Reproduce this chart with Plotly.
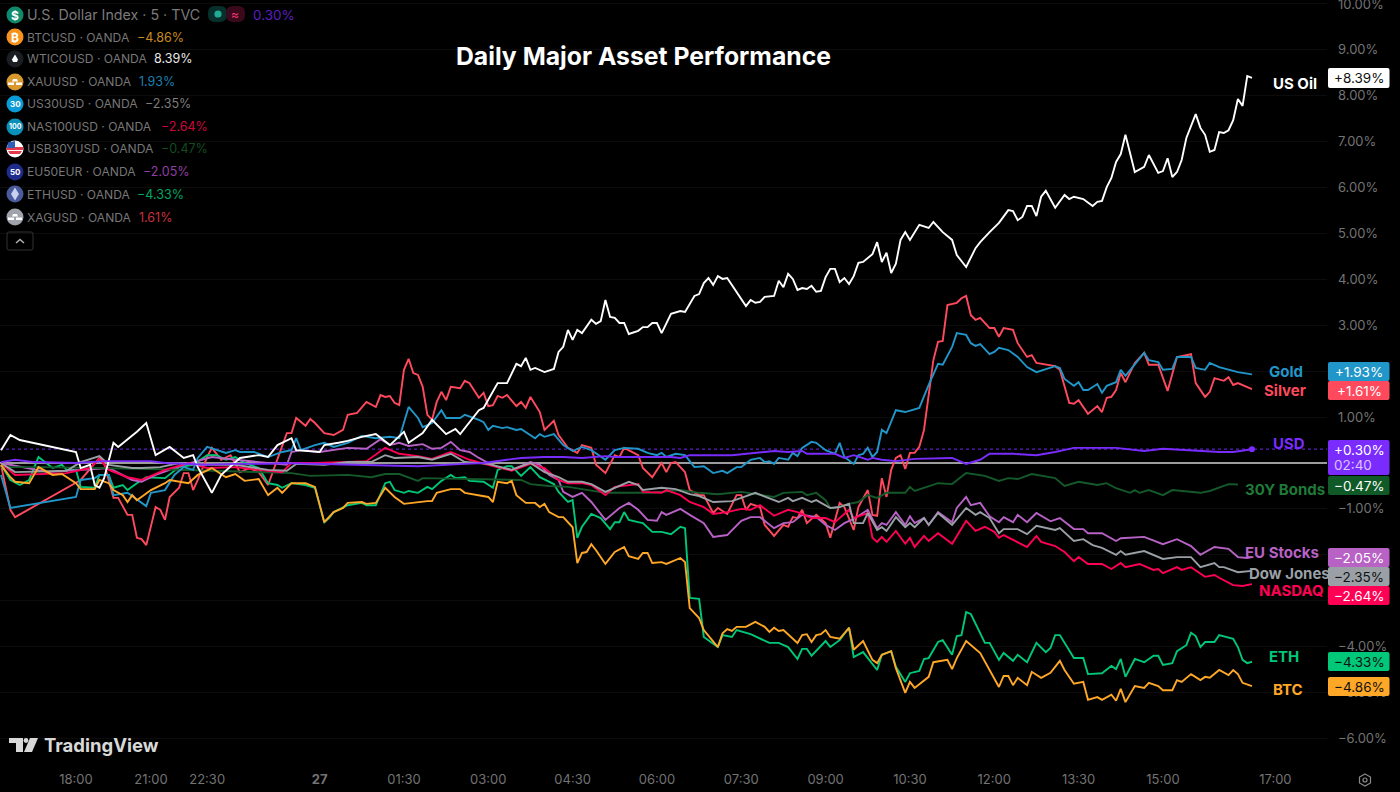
import plotly.graph_objects as go

# ---------- data: 5-minute bars counted from the 18:00 tick, values in percent ----------
tick_bars = [0, 16, 28, 52, 70, 88, 106, 124, 142, 160, 178, 196, 214, 232, 256]
tick_labels = ["18:00", "21:00", "22:30", "<b>27</b>", "01:30", "03:00", "04:30", "06:00", "07:30", "09:00",
               "10:30", "12:00", "13:30", "15:00", "17:00"]
pct_ticks = list(range(-6, 11))
# labels at 2, 0, -2 and -3 sit behind the value tags in the reference, so they stay empty
pct_labels = ["−6.00%", "−5.00%", "−4.00%", "", "", "−1.00%", "", "1.00%", "", "3.00%",
              "4.00%", "5.00%", "6.00%", "7.00%", "8.00%", "9.00%", "10.00%"]

oil_bars = [-16,-14,-12,0,1,3,4,5,6,8,9,13,15,17,20,23,25,26,29,31,35,39,41,43,46,47,52,53,56,58,61,64,67,70,71,74,76,79,81,82,86,87,90,92,94,95,96,97,98,100,102,103,104,105,106,107,108,110,111,112,113,114,115,116,117,118,120,121,122,123,124,125,127,129,130,132,133,134,135,136,137,138,139,142,143,144,145,146,147,149,150,151,152,153,154,155,156,157,158,159,160,161,162,163,164,165,166,167,168,170,171,172,173,174,175,176,177,178,180,182,183,185,187,188,190,192,193,195,197,199,200,201,202,203,204,205,206,207,209,211,212,213,215,217,218,219,220,221,222,223,224,226,228,229,231,232,233,234,235,236,237,239,240,241,242,243,244,245,246,247,248,249,250,251]
oil_values = [0.28,0.61,0.50,0.24,-0.11,-0.04,-0.48,-0.54,-0.33,0.44,0.35,0.68,0.87,0.17,0.35,0.11,0.17,-0.09,-0.65,-0.26,0.11,0.17,0.13,0.39,0.54,0.28,0.24,0.39,0.44,0.48,0.57,0.63,0.39,0.68,0.44,0.65,0.94,0.63,0.74,0.63,1.15,1.20,1.74,1.74,2.16,2.11,2.29,2.03,2.07,1.98,2.05,2.42,2.53,2.90,2.68,2.90,2.83,3.12,3.03,3.09,3.55,3.18,3.16,3.05,3.05,2.81,2.88,2.96,2.96,3.05,3.05,2.83,3.25,3.31,3.29,3.64,3.68,3.92,4.03,3.88,4.07,4.01,4.03,3.55,3.42,3.55,3.49,3.51,3.62,3.64,3.97,3.83,4.12,4.01,3.77,3.81,3.79,3.86,3.73,3.75,4.05,4.23,4.23,3.94,4.03,3.90,4.07,4.36,4.38,4.55,4.81,4.38,4.58,4.14,4.34,4.86,5.03,4.86,5.19,5.12,5.25,5.03,4.86,4.53,4.27,4.68,4.81,5.03,5.23,5.51,5.49,5.29,5.36,5.60,5.60,5.38,5.80,5.93,5.56,5.84,5.75,5.80,5.75,5.60,5.69,5.71,6.01,6.21,6.56,6.73,7.15,6.34,6.45,6.71,6.32,6.36,6.64,6.23,6.34,6.60,7.08,7.60,7.30,7.15,6.78,6.82,7.21,7.19,7.25,7.47,7.93,7.78,8.43,8.39]

silver_bars = [-16,-14,-13,1,5,6,8,9,11,12,13,14,15,17,18,19,20,22,23,24,25,26,28,29,31,33,35,37,39,41,45,46,47,49,50,51,53,55,57,58,60,62,64,65,66,67,68,69,70,71,72,73,74,75,76,77,78,79,80,82,83,84,86,87,88,89,90,91,92,93,94,95,96,97,99,100,102,103,105,107,108,110,111,113,115,116,117,120,121,123,125,126,127,128,130,131,133,134,136,137,139,141,142,143,144,146,147,149,151,152,153,154,155,156,158,160,161,163,164,166,167,169,170,171,172,173,174,175,176,177,178,179,180,181,183,184,185,186,188,189,190,191,192,193,195,196,197,198,200,201,203,204,205,209,210,212,213,214,216,218,219,220,221,222,223,224,226,228,229,231,233,235,238,239,241,242,243,245,246,247,248,251]
silver_values = [-0.04,-1.02,-1.18,-0.37,0.11,0.00,-0.76,-0.76,-1.13,-1.13,-1.63,-1.66,-1.79,-0.96,-1.02,-1.24,-0.74,-0.54,-0.22,-0.22,-0.59,-0.37,0.13,0.33,0.07,0.17,-0.20,-0.11,-0.20,-0.48,0.65,0.65,0.98,0.81,0.96,0.87,0.65,0.61,0.72,1.05,1.09,1.33,1.22,1.48,1.44,1.46,1.31,1.26,2.03,2.27,1.96,1.92,1.66,1.05,0.94,1.33,1.55,1.37,1.66,1.63,1.79,1.74,1.42,1.53,1.24,1.26,1.46,1.42,1.48,1.37,1.24,1.33,1.20,1.44,1.11,0.72,0.92,0.61,0.33,0.22,0.39,0.33,-0.04,-0.22,0.17,0.13,0.33,0.17,-0.11,-0.31,0.00,-0.20,0.00,0.02,-0.20,-0.59,-0.70,-0.70,-1.09,-0.98,-1.11,-0.70,-0.70,-1.02,-0.89,-0.96,-1.35,-1.59,-1.35,-1.39,-1.18,-1.20,-1.02,-1.31,-1.13,-1.31,-1.63,-0.87,-0.96,-1.46,-0.96,-0.59,-1.13,-1.15,-0.33,-0.74,-0.15,0.11,0.17,-0.13,0.22,0.22,0.35,0.72,2.24,2.64,2.66,3.44,3.49,3.59,3.64,3.22,3.12,3.16,2.94,2.94,2.75,2.94,2.90,2.61,2.31,2.35,2.18,2.11,2.03,1.31,1.29,1.37,1.07,1.24,1.11,1.42,1.44,1.59,1.96,1.76,2.18,2.40,2.14,2.14,1.57,2.31,2.37,1.74,1.44,1.55,1.85,1.79,1.87,1.70,1.74,1.61]

gold_bars = [-16,-14,0,1,4,5,7,8,11,15,16,19,21,23,25,26,28,30,32,34,35,38,41,44,46,47,48,51,53,55,58,61,64,67,69,71,73,74,76,78,79,82,83,86,87,88,89,91,92,94,95,98,99,100,102,104,106,108,110,113,115,117,120,122,124,125,126,128,130,132,134,136,138,139,141,142,144,146,147,148,149,150,152,153,154,155,157,158,160,162,163,164,166,167,168,169,170,171,172,173,175,177,180,182,184,185,187,188,190,191,192,193,195,196,197,199,201,203,205,209,210,211,213,214,215,216,218,219,220,222,223,224,226,228,229,231,232,234,235,238,239,241,242,244,248,251]
gold_values = [-0.26,-0.98,-0.74,-0.37,-0.33,-0.26,-0.26,-0.70,-0.65,-0.94,-0.65,-0.59,-0.26,-0.09,-0.15,0.11,0.35,0.28,0.22,0.28,0.24,0.24,0.13,0.24,0.28,0.54,0.28,0.39,0.44,0.35,0.44,0.59,0.54,0.57,0.54,1.22,0.98,0.78,0.87,1.15,0.98,0.98,1.05,0.94,0.89,0.72,0.81,0.76,0.78,0.72,0.74,0.54,0.63,0.57,0.63,0.39,0.26,0.35,0.28,0.07,0.28,0.33,0.31,0.22,0.17,0.22,0.13,0.20,0.17,-0.09,-0.07,-0.22,-0.17,-0.22,-0.09,-0.09,0.07,0.11,0.02,0.04,-0.02,0.11,0.07,0.22,0.15,0.33,0.46,0.44,0.28,0.20,0.44,0.13,-0.02,0.17,0.20,0.33,0.13,0.24,0.72,0.65,1.15,1.11,1.20,1.70,2.16,2.14,2.53,2.83,2.79,2.61,2.55,2.59,2.37,2.42,2.51,2.46,2.31,2.09,1.98,2.11,2.07,1.83,1.68,1.76,1.59,1.59,1.72,1.53,1.68,1.76,2.03,1.90,2.14,2.40,2.24,2.20,2.03,2.05,2.31,2.31,2.07,2.03,2.18,2.09,1.98,1.93]

usd_bars = [-16,-13,-9,0,6,16,19,28,34,41,44,58,73,83,87,92,95,100,104,108,113,115,119,123,127,129,131,140,149,152,155,156,162,164,166,169,170,172,175,179,186,187,190,193,195,200,205,209,213,222,228,232,244,247,251]
usd_values = [0.02,0.07,0.02,0.00,0.04,0.04,0.00,-0.04,-0.02,-0.02,0.00,-0.04,-0.07,-0.02,0.00,0.07,0.11,0.13,0.13,0.11,0.15,0.13,0.13,0.13,0.13,0.11,0.17,0.17,0.26,0.24,0.26,0.20,0.20,0.11,0.17,0.07,0.11,0.07,0.04,0.09,0.11,0.11,-0.02,0.07,0.20,0.20,0.17,0.24,0.33,0.33,0.26,0.31,0.24,0.24,0.30]

bonds_bars = [-16,-7,16,46,50,58,63,66,69,73,74,87,95,97,101,105,113,119,123,129,133,137,142,149,151,155,156,158,160,161,162,165,167,169,171,173,177,178,179,184,187,190,194,197,199,201,204,209,211,214,218,220,222,225,226,227,229,232,234,240,242,246,248]
bonds_values = [-0.09,-0.09,-0.13,-0.22,-0.28,-0.26,-0.31,-0.24,-0.24,-0.39,-0.33,-0.35,-0.37,-0.46,-0.50,-0.52,-0.65,-0.65,-0.65,-0.59,-0.65,-0.68,-0.63,-0.74,-0.65,-0.63,-0.70,-0.65,-0.81,-0.98,-0.98,-0.89,-0.85,-0.70,-0.76,-0.65,-0.65,-0.52,-0.61,-0.44,-0.46,-0.22,-0.28,-0.39,-0.33,-0.35,-0.24,-0.33,-0.50,-0.41,-0.48,-0.44,-0.55,-0.65,-0.59,-0.65,-0.59,-0.70,-0.59,-0.65,-0.61,-0.46,-0.47]

nasdaq_bars = [-16,-13,-2,3,5,7,11,14,19,24,28,34,41,44,46,51,58,62,66,69,73,76,80,84,88,90,93,97,100,103,105,108,110,113,115,120,121,125,126,129,131,134,136,139,142,144,146,149,152,154,157,160,162,165,166,169,170,171,172,173,175,177,178,179,181,182,184,187,190,192,194,196,197,198,201,203,205,206,209,211,213,214,216,219,221,223,224,227,230,231,232,235,236,238,241,243,244,245,247,249,251]
nasdaq_values = [0.00,-0.26,-0.22,-0.11,0.09,-0.15,-0.31,-0.37,-0.15,0.00,-0.11,-0.09,-0.17,-0.20,0.00,0.00,0.02,0.04,0.33,0.20,0.15,0.09,0.24,0.07,-0.04,-0.09,-0.17,-0.02,-0.11,-0.37,-0.44,-0.44,-0.48,-0.70,-0.52,-0.46,-0.63,-0.65,-0.59,-0.70,-0.85,-0.96,-1.11,-1.07,-1.00,-1.02,-0.92,-1.15,-1.02,-1.07,-1.20,-1.20,-1.29,-1.02,-1.20,-1.09,-1.63,-1.72,-1.61,-1.72,-1.48,-1.76,-1.63,-1.83,-1.59,-1.70,-1.53,-1.76,-1.26,-1.48,-1.39,-1.50,-1.63,-1.57,-1.72,-1.83,-1.59,-1.72,-1.81,-1.94,-2.14,-2.05,-2.20,-2.20,-2.31,-2.18,-2.27,-2.20,-2.33,-2.31,-2.40,-2.27,-2.33,-2.27,-2.48,-2.44,-2.50,-2.55,-2.66,-2.68,-2.64]

dow_bars = [-16,-13,-2,1,5,7,12,14,18,22,26,34,41,45,47,53,58,63,66,68,73,76,80,83,88,93,97,100,103,105,108,110,113,118,120,121,125,128,131,133,136,140,142,145,150,152,153,155,157,158,161,163,165,166,168,169,171,172,173,175,177,178,179,181,182,184,187,190,192,193,195,197,198,200,201,203,205,209,210,213,215,217,219,222,223,224,228,232,235,238,240,243,244,245,248,251]
dow_values = [0.00,-0.20,-0.17,0.02,0.15,-0.04,-0.11,-0.11,-0.09,0.00,-0.04,-0.04,-0.15,-0.17,-0.02,-0.04,0.02,0.02,0.17,0.11,0.13,0.07,0.20,0.02,-0.02,-0.15,0.00,-0.20,-0.31,-0.41,-0.41,-0.46,-0.63,-0.41,-0.48,-0.59,-0.54,-0.57,-0.68,-0.72,-0.85,-0.83,-0.76,-0.65,-0.85,-0.76,-0.83,-0.76,-0.85,-0.81,-0.98,-0.96,-0.89,-1.31,-1.31,-1.09,-1.46,-1.40,-1.48,-1.18,-1.40,-1.31,-1.40,-1.20,-1.35,-1.09,-1.35,-0.98,-1.13,-1.07,-1.20,-1.53,-1.44,-1.44,-1.44,-1.55,-1.37,-1.46,-1.42,-1.70,-1.66,-1.79,-1.85,-2.00,-1.92,-2.00,-1.92,-2.09,-2.05,-2.05,-2.27,-2.18,-2.27,-2.27,-2.38,-2.35]

eu_bars = [-16,-6,7,12,14,17,23,29,34,39,45,46,48,52,55,58,62,65,67,69,71,74,76,78,80,82,84,86,88,90,93,97,99,101,103,104,106,108,110,113,116,118,120,122,124,125,126,129,131,134,136,139,142,144,146,149,151,153,155,158,160,162,164,166,169,171,172,173,175,177,178,179,181,182,184,187,188,190,191,193,195,197,198,200,201,203,205,208,210,213,215,216,219,222,223,228,232,235,238,240,243,246,248,250,251]
eu_values = [0.00,-0.20,-0.11,-0.37,-0.41,-0.26,-0.04,0.13,0.07,0.02,-0.04,0.24,0.28,0.24,0.28,0.33,0.31,0.52,0.39,0.44,0.37,0.41,0.31,0.33,0.46,0.28,0.24,0.11,0.00,-0.09,-0.15,0.02,-0.04,-0.26,-0.37,-0.63,-0.74,-0.65,-0.85,-1.24,-0.98,-0.87,-1.02,-1.24,-1.26,-1.07,-1.13,-1.00,-1.13,-1.31,-1.61,-1.57,-1.26,-1.18,-1.18,-1.42,-1.31,-1.29,-1.13,-1.18,-1.35,-1.46,-1.31,-1.22,-1.02,-1.42,-1.31,-1.35,-1.07,-1.35,-1.16,-1.31,-1.20,-1.35,-1.07,-1.29,-0.98,-0.74,-0.92,-0.87,-1.16,-1.29,-1.18,-1.29,-1.13,-1.29,-1.09,-1.27,-1.20,-1.44,-1.44,-1.53,-1.53,-1.70,-1.64,-1.61,-1.77,-1.66,-1.81,-2.00,-1.83,-1.87,-2.05,-2.07,-2.05]

eth_bars = [-16,-14,-12,-10,-8,-5,-3,-2,0,1,4,5,7,8,10,11,13,15,19,22,25,28,30,32,34,36,39,41,43,44,46,49,51,53,54,55,58,61,62,64,66,67,68,70,71,73,75,76,78,80,81,83,84,87,89,90,92,93,95,97,99,102,103,105,106,107,108,110,112,114,115,116,117,118,120,121,123,125,127,129,130,131,133,134,137,138,140,141,144,148,150,152,154,155,156,157,160,161,163,165,166,168,171,172,174,175,177,178,180,181,182,184,185,187,188,189,190,191,194,195,197,198,200,201,203,205,207,208,209,210,213,215,216,219,221,222,223,224,226,228,230,231,232,234,235,237,238,239,240,241,243,244,247,248,249,250,251]
eth_values = [-0.04,-0.37,-0.48,-0.37,0.13,-0.11,-0.04,-0.15,-0.15,-0.52,-0.54,-0.26,-0.26,-0.54,-0.48,-0.59,-0.44,-0.31,-0.33,-0.09,-0.04,0.17,0.17,0.07,0.13,0.00,-0.11,-0.44,-0.48,-0.54,-0.44,-0.48,-0.54,-1.29,-1.20,-1.07,-0.92,-0.87,-0.92,-0.92,-0.44,-0.41,-0.59,-0.65,-0.61,-0.65,-0.52,-0.57,-0.39,-0.26,-0.33,-0.31,-0.39,-0.41,-0.54,-0.15,-0.07,-0.07,-0.28,-0.09,-0.31,-0.46,-0.63,-0.85,-0.81,-1.63,-1.39,-1.11,-1.20,-1.44,-1.29,-1.29,-1.07,-1.24,-1.29,-1.31,-1.50,-1.50,-1.55,-1.39,-1.42,-2.94,-2.96,-3.79,-4.01,-3.75,-3.79,-3.64,-3.73,-3.92,-3.92,-4.01,-4.27,-4.05,-4.05,-4.20,-3.88,-4.01,-3.86,-3.59,-4.23,-4.12,-4.51,-4.18,-4.10,-4.44,-4.77,-4.58,-4.53,-4.27,-4.25,-3.90,-3.86,-4.18,-3.77,-3.75,-3.25,-3.29,-3.92,-3.92,-4.29,-4.14,-4.31,-4.18,-4.34,-3.92,-4.12,-4.03,-3.75,-3.75,-4.25,-4.25,-4.60,-4.58,-4.42,-4.49,-4.27,-4.66,-4.27,-4.34,-4.20,-4.20,-4.40,-4.36,-4.10,-3.97,-3.70,-3.77,-4.01,-3.90,-3.90,-3.75,-3.83,-4.01,-4.29,-4.36,-4.33]

btc_bars = [-16,-14,-13,-10,-8,-5,-3,0,1,4,5,7,8,10,11,12,13,16,19,20,24,26,29,32,34,36,39,40,41,43,44,46,49,51,53,55,57,58,61,62,64,66,68,70,73,75,76,77,80,82,83,87,88,89,90,92,93,94,96,98,99,100,101,103,104,106,107,108,109,110,111,113,115,117,118,120,121,122,123,125,126,129,130,131,133,134,137,138,139,140,141,143,145,147,148,149,150,151,154,155,156,157,158,159,160,161,163,165,166,168,170,171,172,174,175,177,178,179,181,182,183,186,187,188,190,193,197,198,199,200,201,203,204,206,208,210,211,213,215,216,218,219,221,222,223,224,226,228,229,231,232,234,235,236,238,240,241,242,244,246,247,248,249,251]
btc_values = [-0.04,-0.31,-0.41,-0.44,-0.09,-0.26,-0.24,-0.44,-0.57,-0.57,-0.37,-0.44,-0.59,-0.70,-0.85,-0.70,-0.81,-0.59,-0.44,-0.37,-0.44,-0.26,-0.11,-0.31,-0.24,-0.39,-0.35,-0.52,-0.70,-0.54,-0.65,-0.44,-0.44,-0.52,-1.29,-1.07,-0.98,-0.87,-0.85,-0.89,-0.87,-0.54,-0.74,-0.89,-0.85,-0.83,-0.83,-0.65,-0.57,-0.57,-0.65,-0.72,-0.74,-0.85,-0.41,-0.44,-0.39,-0.70,-0.87,-0.87,-0.96,-0.89,-1.07,-1.18,-1.18,-1.40,-2.18,-1.96,-1.94,-1.77,-1.90,-2.20,-1.94,-1.83,-2.03,-2.09,-1.96,-1.96,-2.18,-2.16,-2.20,-2.07,-2.16,-3.16,-3.38,-3.64,-4.01,-3.71,-3.62,-3.66,-3.57,-3.57,-3.46,-3.57,-3.68,-3.59,-3.66,-3.64,-3.92,-3.75,-3.73,-3.90,-3.75,-3.73,-3.64,-3.79,-3.83,-3.59,-4.07,-3.88,-4.29,-4.36,-4.18,-4.10,-4.47,-5.01,-4.77,-4.90,-4.73,-4.66,-4.34,-4.29,-4.49,-4.25,-3.88,-4.14,-4.88,-4.64,-4.64,-4.84,-4.68,-4.84,-4.55,-4.68,-4.57,-4.31,-4.51,-4.81,-4.77,-5.16,-5.10,-5.16,-5.05,-5.18,-4.92,-5.21,-4.86,-4.90,-4.79,-4.86,-4.95,-4.95,-4.73,-4.77,-4.60,-4.73,-4.66,-4.68,-4.51,-4.62,-4.51,-4.60,-4.79,-4.86]

legend_names = ["BTCUSD · OANDA", "WTICOUSD · OANDA", "XAUUSD · OANDA", "US30USD · OANDA", "NAS100USD · OANDA",
                "USB30YUSD · OANDA", "EU50EUR · OANDA", "ETHUSD · OANDA", "XAGUSD · OANDA"]
legend_values = ["−4.86%", "8.39%", "1.93%", "−2.35%", "−2.64%", "−0.47%", "−2.05%", "−4.33%", "1.61%"]

# ---------- styles ----------
C_OIL, C_GOLD, C_SILVER, C_USD = "#ffffff", "#2196c9", "#ff4a5e", "#7a2cff"
C_BONDS, C_EU, C_DOW, C_NAS, C_ETH, C_BTC = "#14592a", "#b862c6", "#9aa0a6", "#ff0055", "#00c878", "#ffa726"
LINE_W = 1.9
PL_W, PL_H = 1327, 765   # plot-area size in px


def xp(x):
    return x / PL_W


def yp(y):
    return 1 - y / PL_H


def pt(x, y):
    return f"{xp(x):.5f},{yp(y):.5f}"


def poly(points):
    return "M" + " L".join(pt(a, b) for a, b in points) + " Z"


def rrect(x0, y0, x1, y1, r=2):
    return (f"M{pt(x0 + r, y0)} L{pt(x1 - r, y0)} Q{pt(x1, y0)} {pt(x1, y0 + r)} L{pt(x1, y1 - r)} "
            f"Q{pt(x1, y1)} {pt(x1 - r, y1)} L{pt(x0 + r, y1)} Q{pt(x0, y1)} {pt(x0, y1 - r)} "
            f"L{pt(x0, y0 + r)} Q{pt(x0, y0)} {pt(x0 + r, y0)} Z")


shapes, annos = [], []


def path(d, fill="rgba(0,0,0,0)", line=None, width=0, layer="above"):
    shapes.append(dict(type="path", xref="paper", yref="paper", path=d, fillcolor=fill, layer=layer,
                       line=dict(color=line or "rgba(0,0,0,0)", width=width)))


def circle(cx, cy, r, fill):
    shapes.append(dict(type="circle", xref="paper", yref="paper", x0=xp(cx - r), x1=xp(cx + r),
                       y0=yp(cy + r), y1=yp(cy - r), fillcolor=fill, line=dict(width=0), layer="above"))


def text(x, y, s, color, size=13, anchor="left", family="Inter, sans-serif"):
    annos.append(dict(xref="paper", yref="paper", x=xp(x), y=yp(y), text=s, showarrow=False, xanchor=anchor,
                      yanchor="middle", font=dict(color=color, size=size, family=family), borderpad=0, borderwidth=0))


fig = go.Figure()
series = [
    (silver_bars, silver_values, C_SILVER), (eth_bars, eth_values, C_ETH), (eu_bars, eu_values, C_EU),
    (bonds_bars, bonds_values, C_BONDS), (nasdaq_bars, nasdaq_values, C_NAS), (dow_bars, dow_values, C_DOW),
    (gold_bars, gold_values, C_GOLD), (btc_bars, btc_values, C_BTC), (oil_bars, oil_values, C_OIL),
    (usd_bars, usd_values, C_USD),
]
for bx, vals, col in series:
    fig.add_trace(go.Scatter(x=bx, y=vals, mode="lines", line=dict(color=col, width=LINE_W),
                             hoverinfo="skip", showlegend=False))
fig.add_trace(go.Scatter(x=usd_bars[-1:], y=usd_values[-1:], mode="markers", marker=dict(color=C_USD, size=6),
                         hoverinfo="skip", showlegend=False))

# USD last-price dotted line
shapes.append(dict(type="line", xref="paper", yref="y", x0=0, x1=1, y0=usd_values[-1], y1=usd_values[-1],
                   line=dict(color="#5a1fc0", width=1.2, dash="dot"), layer="below"))

# right-hand value tags: text, fill, text colour, top, bottom, label, label x, label y, label colour
tags = [
    ("+8.39%", "#ffffff", "#111111", 68, 88, "US Oil", 1273, 83, C_OIL),
    ("+1.93%", C_GOLD, "#ffffff", 362, 381, "Gold", 1269, 371, C_GOLD),
    ("+1.61%", C_SILVER, "#ffffff", 381, 400, "Silver", 1264, 391, C_SILVER),
    ("−0.47%", "#0f5a26", "#ffffff", 476, 495, "30Y Bonds", 1245, 490, "#1f7a38"),
    ("−2.05%", C_EU, "#ffffff", 548, 567, "EU Stocks", 1245, 552, C_EU),
    ("−2.35%", C_DOW, "#111111", 567, 586, "Dow Jones", 1249, 573, C_DOW),
    ("−2.64%", C_NAS, "#ffffff", 586, 605, "NASDAQ", 1259, 590, C_NAS),
    ("−4.33%", C_ETH, "#111111", 652, 671, "ETH", 1269, 656, C_ETH),
    ("−4.86%", C_BTC, "#111111", 677, 696, "BTC", 1273, 689, C_BTC),
]
for t, fill, fc, top, bot, lab, lx, ly, lc in tags:
    text(lx, ly, f"<b>{lab}</b>", lc, size=15)
    path(rrect(1328, top, 1389.5, bot), fill=fill)
    text(1359, (top + bot) / 2, t, fc, size=13.5, anchor="center")
# USD tag with countdown
text(1273, 443, "<b>USD</b>", C_USD, size=15)
path(rrect(1328, 440, 1389.5, 475), fill=C_USD)
text(1359, 450, "+0.30%", "#ffffff", size=13.5, anchor="center")
text(1353, 465, "02:40", "#d9c4ff", size=13.5, anchor="center")

# legend block
row_y = [37, 59, 82, 104, 127, 149, 172, 194, 217]
val_x = [137, 154, 139, 145, 161, 161, 143, 137, 139]
val_col = ["#c98a20", "#e8e8e8", "#1b7fae", "#7d7d7d", "#d0043f", "#124d20", "#8f3fa3", "#00a862", "#c9303f"]
icon_col = ["#f7931a", "#1a1d22", "#d9982b", "#0a9bd6", "#0a8fb8", "#ffffff", "#1d2b8a", "#4a5a9a", "#a0a3ab"]
icon_txt = ["₿", "", "", "30", "100", "", "50", "", ""]
for name, val, y, vx, vc, ic, it in zip(legend_names, legend_values, row_y, val_x, val_col, icon_col, icon_txt):
    circle(15, y, 8.5, ic)
    if it:
        text(15, y, f"<b>{it}</b>", "#ffffff", size=12 if len(it) == 1 else (7 if len(it) == 3 else 8), anchor="center")
    text(27, y, name, "#777777", size=12.1)
    text(vx, y, val, vc, size=12.5)

# USD header row
circle(15, 15, 8.5, "#0f8a6d")
text(15, 15, "<b>$</b>", "#ffffff", size=12, anchor="center")
text(27, 14, "U.S. Dollar Index · 5 · TVC", "#7a7a7a", size=14.25)
path(rrect(208, 6, 227, 22, 7), fill="#07302c")
path(rrect(226, 6, 245, 22, 7), fill="#3a0a1c")
circle(218, 14, 3.6, "#22ab94")
text(235, 14, "≈", "#f23673", size=12, anchor="center")
text(253, 14.5, "0.30%", "#5a1fc0", size=13.5)

# icon details: drop, gold/silver bars, flag, ethereum diamond
path(poly([(15, 54.5), (18, 59.5), (17, 62), (13, 62), (12, 59.5)]), fill="#ffffff")
for yc, col in ((82, "#ffffff"), (217, "#ffffff")):
    path(poly([(13, yc - 3), (17, yc - 3), (18, yc - 0.5), (12, yc - 0.5)]), fill=col)
    path(poly([(8, yc + 0.5), (14, yc + 0.5), (14, yc + 3), (8, yc + 3)]), fill=col)
    path(poly([(16, yc + 0.5), (22, yc + 0.5), (22, yc + 3), (16, yc + 3)]), fill=col)
path(poly([(8, 151), (22, 151), (20, 154), (10, 154)]), fill="#e5394a")
path(poly([(6.8, 147), (23.2, 147), (23.4, 150), (6.6, 150)]), fill="#e5394a")
path(poly([(8, 142.5), (15, 141), (15, 148), (7, 148)]), fill="#2b5fb8")
path(poly([(15, 187.5), (19, 194), (15, 200.5), (11, 194)]), fill="#c9d0f0")

# collapse button
path(rrect(7, 232, 33, 250, 2), line="#333333", width=1)
path(f"M{pt(16, 243)} L{pt(20, 239.5)} L{pt(24, 243)}", line="#b0b0b0", width=1.5)

# TradingView logo
path(poly([(9, 738), (23, 738), (23, 752), (16, 752), (16, 743), (9, 743)]), fill="#d8d8d8")
circle(26, 740.5, 2.4, "#d8d8d8")
path(poly([(30, 738), (38, 738), (32, 752), (24, 752)]), fill="#d8d8d8")
text(44, 745, "<b>TradingView</b>", "#d8d8d8", size=18.5)

# settings hexagon
path(poly([(1365, 774), (1370.5, 777), (1370.5, 783), (1365, 786), (1359.5, 783), (1359.5, 777)]),
     line="#8a8a8a", width=1.2)
shapes.append(dict(type="circle", xref="paper", yref="paper", x0=xp(1363), x1=xp(1367), y0=yp(782), y1=yp(778),
                   line=dict(color="#8a8a8a", width=1.2), layer="above"))

fig.update_layout(
    width=1400, height=792, autosize=False,
    paper_bgcolor="#000000", plot_bgcolor="#000000",
    margin=dict(l=0, r=1400 - PL_W, t=0, b=792 - PL_H, pad=0, autoexpand=False),
    title=dict(text="<b>Daily Major Asset Performance</b>", x=643.5 / 1400, y=1 - 56 / 792, xref="container",
               yref="container", xanchor="center", yanchor="middle",
               font=dict(color="#ffffff", size=24.75, family="Inter, sans-serif")),
    showlegend=False, shapes=shapes, annotations=annos,
    xaxis=dict(range=[-16.22, 267.02], tickvals=tick_bars, ticktext=tick_labels, showgrid=False, zeroline=False,
               showline=False, ticks="", ticklabelstandoff=5, tickangle=0, automargin=False,
               tickfont=dict(color="#737373", size=13, family="Inter, sans-serif")),
    yaxis=dict(range=[-6.58, 10.087], side="right", tickvals=pct_ticks, ticktext=pct_labels, gridcolor="#0c0c0c",
               gridwidth=1, zeroline=True, zerolinecolor="#9c9c9c", zerolinewidth=1.6, showline=False, ticks="",
               ticklabelstandoff=10, ticklabeloverflow="allow", automargin=False,
               tickfont=dict(color="#737373", size=13, family="Inter, sans-serif")),
)

fig.write_html("out.html", config={"displayModeBar": False},
               post_script="document.body.style.margin='0';document.body.style.background='#000';"
                           "document.documentElement.style.overflow='hidden';")
